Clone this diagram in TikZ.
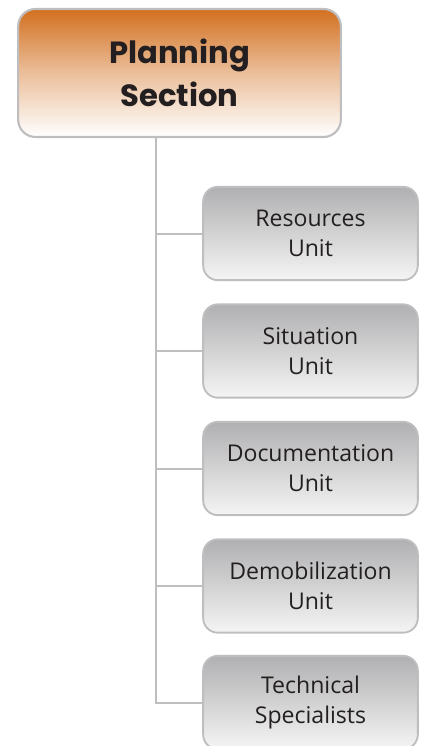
\documentclass[tikz,border=0pt]{standalone}
\usepackage{fontspec}
\setmainfont{Open Sans}
\newfontfamily\headfont{Poppins}
\usetikzlibrary{positioning}
\definecolor{planorange}{RGB}{210,112,32}
\definecolor{framegrey}{RGB}{190,190,192}
\definecolor{unitgrey}{RGB}{176,176,178}
\definecolor{inkblack}{RGB}{35,31,32}
\tikzset{
	sectionbox/.style={rectangle, rounded corners=13pt, draw=framegrey, line width=1.6pt,
		top color=planorange, bottom color=white, middle color=planorange!45,
		minimum width=242pt, minimum height=96pt, align=center,
		font=\headfont\bfseries\fontsize{23}{32}\selectfont, text=inkblack},
	unitbox/.style={rectangle, rounded corners=11pt, draw=framegrey, line width=1.4pt,
		top color=unitgrey, bottom color=black!4,
		minimum width=161pt, minimum height=70pt, align=center,
		font=\fontsize{17.3}{22.5}\selectfont, text=inkblack},
	branch/.style={draw=framegrey, line width=1.5pt}
}
\begin{document}
\begin{tikzpicture}[x=0.75pt, y=-0.75pt]
	%%%%% START %%%%%
	\useasboundingbox (0, 0) rectangle (422, 746);
	\clip (0, 0) rectangle (422, 746);
	
	\node[sectionbox] (plan) at (179.5, 73) {Planning\\Section};
	\coordinate (trunk) at (156, 137);
	
	\node[unitbox] (res) at (310.5, 233.5) {Resources\\Unit};
	\node[unitbox] (sit) at (310.5, 351) {Situation\\Unit};
	\node[unitbox] (doc) at (310.5, 468.5) {Documentation\\Unit};
	\node[unitbox] (demob) at (310.5, 586) {Demobilization\\Unit};
	\node[unitbox] (tech) at (310.5, 702.5) {Technical\\Specialists};
	
	\draw[branch] (trunk) -- (trunk |- tech.west) -- (tech.west);
	\draw[branch] (trunk |- res.west) -- (res.west);
	\draw[branch] (trunk |- sit.west) -- (sit.west);
	\draw[branch] (trunk |- doc.west) -- (doc.west);
	\draw[branch] (trunk |- demob.west) -- (demob.west);
	
	%%%%% END %%%%%
\end{tikzpicture}
\end{document}
